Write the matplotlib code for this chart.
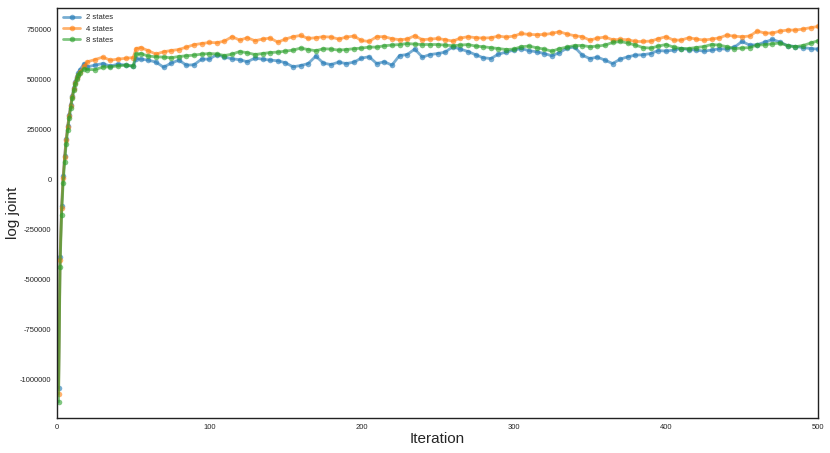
import matplotlib
matplotlib.use("Agg")
import matplotlib.pyplot as plt
import seaborn as sns

# iterations sampled from the figure
iterations = (list(range(1, 16)) + [18] + list(range(20, 51, 5)) + [52]
              + list(range(55, 501, 5)))

early_2 = [-1040000, -385000, -135000, 15000, 115000, 200000, 265000, 320000,
           370000, 415000, 455000, 487000, 512000, 532000, 548000]
early_4 = [-1070000, -400000, -145000, 5000, 110000, 195000, 262000, 318000,
           368000, 412000, 450000, 482000, 505000, 522000, 535000]
early_8 = [-1110000, -435000, -175000, -20000, 85000, 175000, 245000, 305000,
           358000, 405000, 445000, 478000, 502000, 520000, 532000]

states_2 = early_2 + [
    578000, 562000, 570000, 578000, 565000, 575000, 570000, 565000, 603000,
    600000, 595000, 585000, 560000, 580000, 595000, 570000, 572000, 600000,
    600000, 623000, 610000, 602000, 597000, 587000, 605000, 600000, 595000,
    592000, 582000, 562000, 568000, 578000, 615000, 580000, 573000, 585000,
    578000, 585000, 605000, 612000, 578000, 587000, 570000, 618000, 623000,
    650000, 610000, 623000, 628000, 635000, 662000, 650000, 638000, 622000,
    607000, 603000, 625000, 635000, 645000, 653000, 642000, 637000, 628000,
    617000, 632000, 655000, 660000, 620000, 603000, 610000, 595000, 578000,
    600000, 612000, 620000, 622000, 628000, 643000, 640000, 645000, 653000,
    648000, 645000, 640000, 645000, 652000, 650000, 660000, 688000, 670000,
    672000, 685000, 698000, 685000, 667000, 663000, 658000, 653000, 650000]

states_4 = early_4 + [
    565000, 587000, 598000, 610000, 595000, 600000, 604000, 608000, 653000,
    658000, 642000, 625000, 637000, 643000, 648000, 660000, 672000, 678000,
    683000, 682000, 690000, 712000, 695000, 707000, 692000, 700000, 705000,
    685000, 700000, 712000, 718000, 703000, 707000, 712000, 710000, 700000,
    710000, 715000, 693000, 688000, 712000, 712000, 702000, 697000, 700000,
    717000, 697000, 700000, 703000, 697000, 690000, 705000, 712000, 707000,
    705000, 707000, 715000, 710000, 715000, 728000, 723000, 722000, 723000,
    728000, 737000, 725000, 717000, 712000, 695000, 705000, 710000, 697000,
    698000, 697000, 688000, 688000, 690000, 702000, 712000, 695000, 695000,
    707000, 700000, 695000, 700000, 706000, 720000, 714000, 712000, 715000,
    740000, 730000, 730000, 740000, 745000, 745000, 750000, 757000, 763000]

states_8 = early_8 + [
    553000, 548000, 548000, 560000, 562000, 566000, 570000, 565000, 625000,
    628000, 615000, 612000, 610000, 607000, 613000, 617000, 620000, 625000,
    628000, 626000, 618000, 625000, 638000, 632000, 623000, 628000, 633000,
    635000, 640000, 645000, 655000, 648000, 642000, 652000, 650000, 645000,
    648000, 652000, 655000, 660000, 660000, 667000, 670000, 673000, 678000,
    675000, 673000, 673000, 673000, 670000, 667000, 670000, 673000, 665000,
    662000, 657000, 653000, 648000, 650000, 662000, 665000, 657000, 650000,
    640000, 652000, 660000, 668000, 668000, 662000, 665000, 670000, 683000,
    688000, 680000, 670000, 658000, 655000, 665000, 673000, 660000, 653000,
    653000, 658000, 663000, 673000, 670000, 662000, 653000, 655000, 658000,
    670000, 672000, 677000, 680000, 667000, 662000, 668000, 680000, 692000]

labels = ["2 states", "4 states", "8 states"]


def plotBuilder():
    """Builds the plot"""
    sns.set_style("white")
    plt.rcParams['font.family'] = ['Liberation Sans', 'DejaVu Sans']
    plt.rcParams['axes.unicode_minus'] = False

    fig = plt.figure(figsize=(8.3, 4.53), dpi=100)
    ax = fig.add_axes([0.0687, 0.0773, 0.917, 0.905])

    for series, label in zip([states_2, states_4, states_8], labels):
        ax.plot(iterations, series, marker='o', markersize=4,
                markeredgewidth=0, linewidth=2.0, alpha=0.6, label=label)

    ax.set_xlim(0, 500)
    ax.set_ylim(-1190000, 855000)
    ax.set_xticks([0, 100, 200, 300, 400, 500])
    ax.set_yticks([-1000000, -750000, -500000, -250000, 0,
                   250000, 500000, 750000])
    ax.ticklabel_format(axis='y', style='plain', useOffset=False)
    ax.tick_params(labelsize=5.5, length=0, pad=4)
    for spine in ax.spines.values():
        spine.set_color('#222222')
        spine.set_linewidth(1.0)

    ax.set_xlabel("Iteration", fontsize=11, labelpad=1)
    ax.set_ylabel("log joint", fontsize=11)
    ax.yaxis.set_label_coords(-0.049, 0.5)
    ax.legend(loc='upper left', fontsize=5.5, frameon=False,
              handlelength=2.2, borderaxespad=0.4)

    plt.savefig('out.png', dpi=100)


def main():
    plotBuilder()


if __name__ == '__main__':
    main()
